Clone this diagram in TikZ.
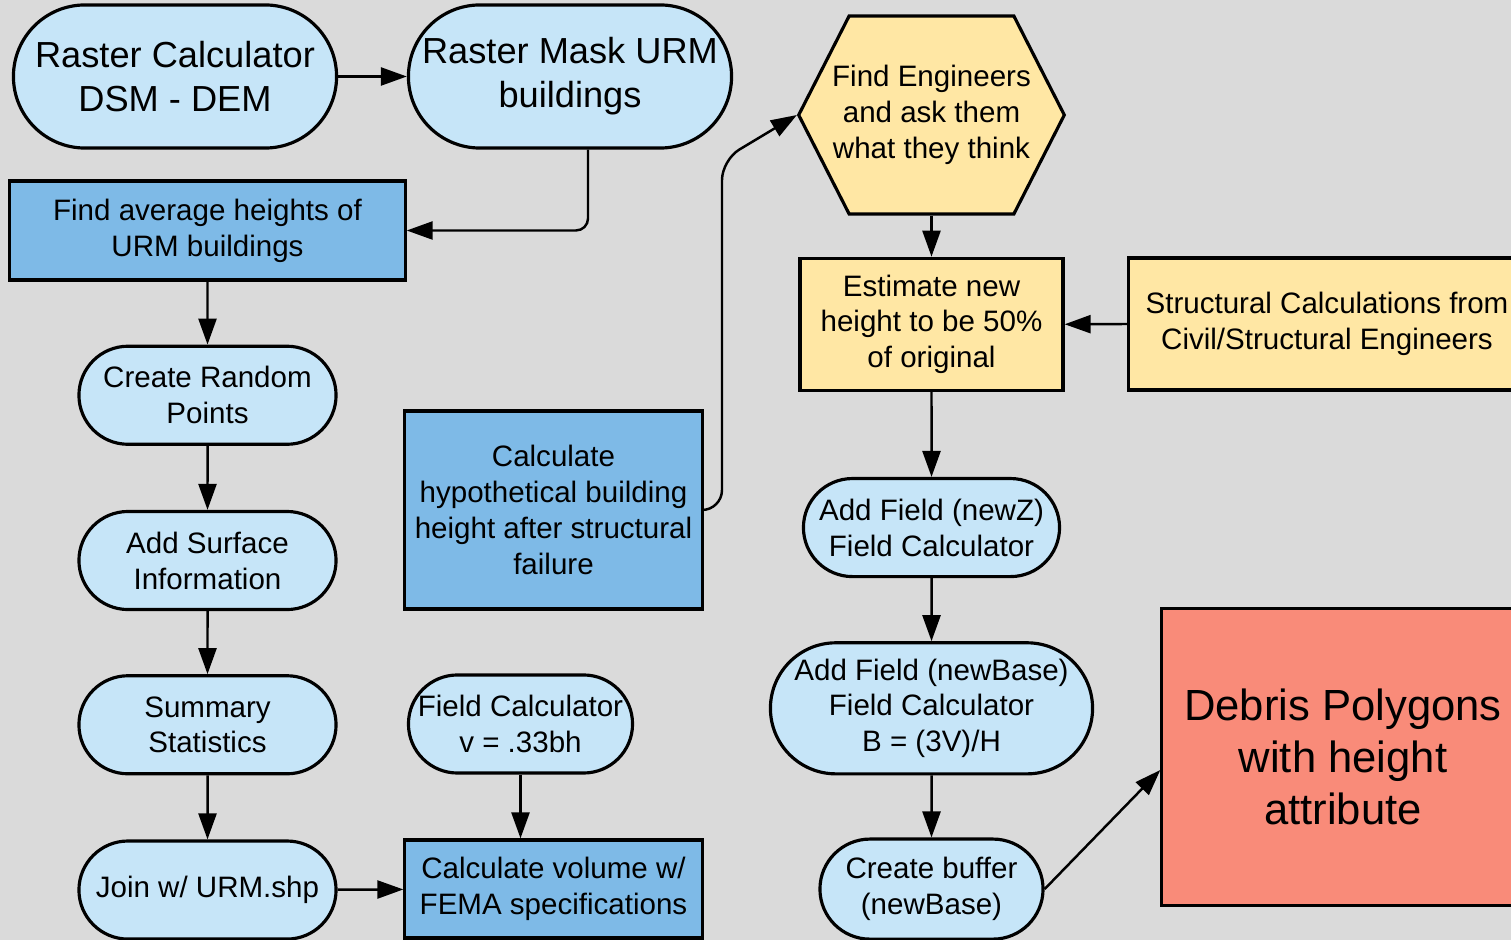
\documentclass[tikz,border=0pt]{standalone}
\usepackage{fontspec}
\setmainfont{Liberation Sans}
\usetikzlibrary{arrows.meta,positioning,shapes.misc,shapes.symbols}
\definecolor{FlowBg}{HTML}{DADADA}
\definecolor{StepBlue}{HTML}{C6E5F8}
\definecolor{CalcBlue}{HTML}{7EBAE7}
\definecolor{EngYellow}{HTML}{FFE7A4}
\definecolor{OutRed}{HTML}{F98B79}

\begin{document}
\begin{tikzpicture}[x=0.01cm,y=-0.01cm,
  toolp/.style={rounded rectangle,draw=black,line width=0.9pt,fill=StepBlue,align=center,inner sep=1pt,font=\fontsize{8.4}{10.2}\selectfont},
  calcp/.style={rectangle,draw=black,line width=0.9pt,fill=CalcBlue,align=center,inner sep=1pt,font=\fontsize{8.4}{10.2}\selectfont},
  engp/.style={draw=black,line width=0.9pt,fill=EngYellow,align=center,inner sep=1pt,font=\fontsize{8.4}{10.2}\selectfont},
  bigt/.style={font=\fontsize{10.3}{12.5}\selectfont},
  flow/.style={-{Triangle[length=2.6mm,width=1.8mm]},line width=0.7pt},
]
\path[use as bounding box,fill=FlowBg] (0,0) rectangle (1511,940);
% left column
\node[toolp,bigt,minimum width=3.3cm,minimum height=1.43cm] (rc) at (175,76.5) {Raster Calculator\\DSM - DEM};
\node[toolp,bigt,minimum width=3.3cm,minimum height=1.43cm] (mask) at (570,76.5) {Raster Mask URM\\buildings};
\node[calcp,minimum width=3.95cm,minimum height=0.99cm] (avgh) at (207.5,230.5) {Find average heights of\\URM buildings};
\node[toolp,minimum width=2.64cm,minimum height=0.98cm,below=0.63cm of avgh] (rpts) {Create Random\\Points};
\node[toolp,minimum width=2.64cm,minimum height=0.98cm,below=0.64cm of rpts] (surf) {Add Surface\\Information};
\node[toolp,minimum width=2.64cm,minimum height=0.98cm,below=0.63cm of surf] (stats) {Summary\\Statistics};
\node[toolp,minimum width=2.64cm,minimum height=0.98cm,below=0.64cm of stats] (join) {Join w/ URM.shp};
% middle column
\node[calcp,minimum width=2.97cm,minimum height=1.98cm] (hyp) at (553.5,510) {Calculate\\hypothetical building\\height after structural\\failure};
\node[toolp,minimum width=2.31cm,minimum height=0.98cm] (fcalc) at (520.5,724) {Field Calculator\\v = .33bh};
\node[calcp,minimum width=2.97cm,minimum height=0.98cm] (vol) at (553.5,889) {Calculate volume w/\\FEMA specifications};
% right column
\node[engp,signal,signal to=west and east,signal pointer angle=126,inner xsep=-0.17cm,minimum height=1.98cm] (eng) at (931.5,115) {Find Engineers\\and ask them\\what they think};
\node[engp,rectangle,minimum width=2.63cm,minimum height=1.32cm,below=0.41cm of eng] (est) {Estimate new\\height to be 50\%\\of original};
\node[engp,rectangle,minimum width=3.96cm,minimum height=1.32cm] (struct) at (1327,324) {Structural Calculations from\\Civil/Structural Engineers};
\node[toolp,minimum width=2.63cm,minimum height=0.98cm,below=0.85cm of est] (newz) {Add Field (newZ)\\Field Calculator};
\node[toolp,minimum width=3.29cm,minimum height=1.31cm,below=0.63cm of newz] (newbase) {Add Field (newBase)\\Field Calculator\\B = (3V)/H};
\node[toolp,minimum width=2.3cm,minimum height=1.0cm,below=0.62cm of newbase] (buffer) {Create buffer\\(newBase)};
\node[rectangle,draw=black,line width=0.9pt,fill=OutRed,align=center,minimum width=3.62cm,minimum height=2.96cm,font=\fontsize{12.4}{14.8}\selectfont] (debris) at (1343,757) {Debris Polygons\\with height\\attribute};
% connectors
\draw[flow] (rc.east) -- (mask.west);
\draw[flow,rounded corners=0.12cm] ([xshift=0.18cm]mask.south) |- (avgh.east);
\draw[flow] (avgh) -- (rpts);
\draw[flow] (rpts) -- (surf);
\draw[flow] (surf) -- (stats);
\draw[flow] (stats) -- (join);
\draw[flow] (join) -- (vol);
\draw[flow] (fcalc.south) -- (fcalc.south |- vol.north);
\draw[flow,rounded corners=0.2cm] (hyp.east) -| (722,160) -- (eng.west);
\draw[flow] (eng.south) -- (est.north);
\draw[flow] (struct.west) -- (est.east);
\draw[flow] (est) -- (newz);
\draw[flow] (newz) -- (newbase);
\draw[flow] (newbase) -- (buffer);
\draw[flow] (buffer.east) -- ([yshift=-0.13cm]debris.west);
\end{tikzpicture}
\end{document}
